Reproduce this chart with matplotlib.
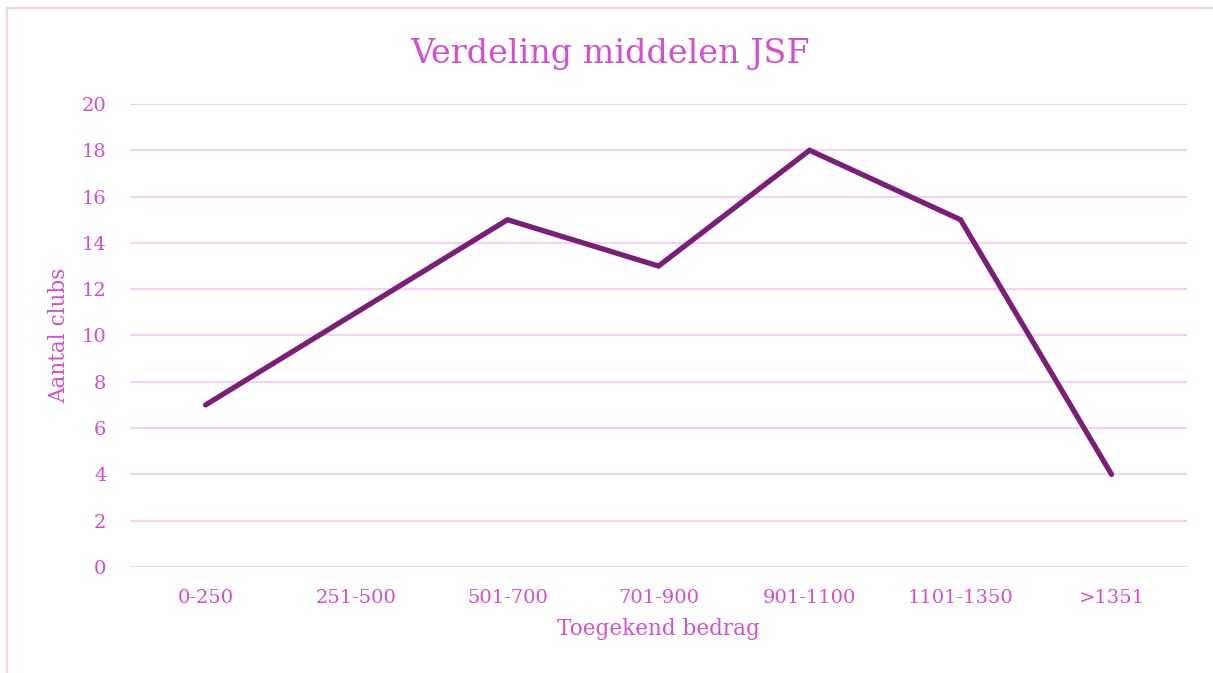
import matplotlib.pyplot as plt
from matplotlib.patches import Rectangle

categories = ['0-250', '251-500', '501-700', '701-900', '901-1100', '1101-1350', '>1351']
clubs = [7, 11, 15, 13, 18, 15, 4]
yticks = [0, 2, 4, 6, 8, 10, 12, 14, 16, 18, 20]

text_col = '#D44FD0'
line_col = '#7B1E7A'
grid_col = '#F5D2F3'

plt.rcParams['font.family'] = ['DejaVu Serif']

fig = plt.figure(figsize=(12.13, 6.73), dpi=100)
ax = fig.add_axes([0.1072, 0.1575, 0.8714, 0.688])

# light frame around the chart area
fig.patches.append(Rectangle((7 / 1213, -0.1), 1.5, 1 - 8 / 673 + 0.1, transform=fig.transFigure,
                             fill=False, edgecolor=grid_col, linewidth=1.5))

x = range(len(categories))
ax.plot(x, clubs, color=line_col, linewidth=3.8, solid_capstyle='round', solid_joinstyle='miter')

ax.set_xlim(-0.5, len(categories) - 0.5)
ax.set_ylim(0, 20)
ax.set_yticks(yticks)
ax.set_xticks(list(x))
ax.set_xticklabels(categories)
ax.yaxis.grid(True, color=grid_col, linewidth=1.5)
ax.set_axisbelow(True)
for s in ax.spines.values():
    s.set_visible(False)
ax.tick_params(length=0, colors=text_col, labelsize=14)
ax.tick_params(axis='y', pad=17)
ax.tick_params(axis='x', pad=16)

fig.text(0.503, 0.92, 'Verdeling middelen JSF', color=text_col, fontsize=24,
         ha='center', va='center')
ax.set_xlabel('Toegekend bedrag', color=text_col, fontsize=15.5, labelpad=8)
ax.set_ylabel('Aantal clubs', color=text_col, fontsize=15.5, labelpad=8)

fig.savefig('out.png', dpi=100)
